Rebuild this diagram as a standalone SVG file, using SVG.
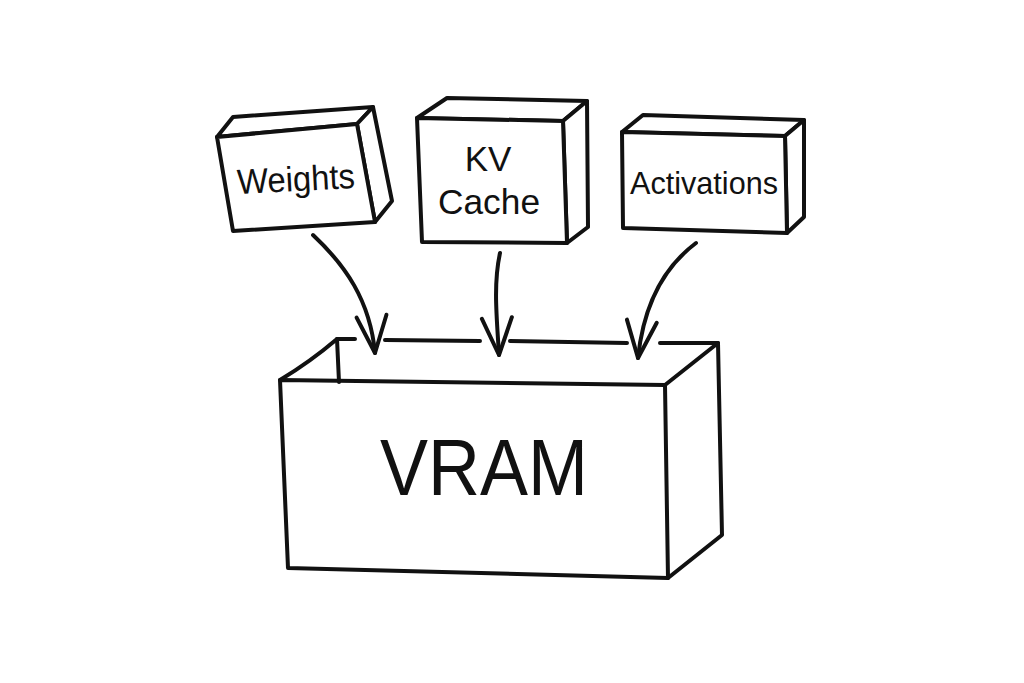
<svg xmlns="http://www.w3.org/2000/svg" width="1024" height="683" viewBox="0 0 1024 683">
<style>
.ln{fill:none;stroke:#111;stroke-width:4;stroke-linecap:round;stroke-linejoin:round}
.face{fill:#fff;stroke:#111;stroke-width:4;stroke-linejoin:round}
.lbl{font-family:"Liberation Sans","DejaVu Sans",sans-serif;fill:#111;text-anchor:middle}
</style>
<defs>
<marker id="ah" markerUnits="userSpaceOnUse" markerWidth="44" markerHeight="44" viewBox="-40 -22 44 44" refX="0" refY="0" orient="auto" overflow="visible">
<path d="M-37,-15 L0,0 L-37,15" fill="none" stroke="#111" stroke-width="4" stroke-linecap="round" stroke-linejoin="round"/>
</marker>
</defs>
<rect width="1024" height="683" fill="#fff"/>

<g id="weights">
<path class="face" d="M217,137 L233,117 L373,107 L357,124 Z"/>
<path class="face" d="M357,124 L373,107 L392,201 L375,222 Z"/>
<path class="face" d="M217,137 L357,124 L375,222 L233,231 Z"/>
<text class="lbl" x="296" y="191" font-size="35" textLength="118" lengthAdjust="spacingAndGlyphs" transform="rotate(-3 296 180)">Weights</text>
</g>

<g id="kvcache">
<path class="face" d="M417,118 L447,98 L587,101 L563,121 Z"/>
<path class="face" d="M563,121 L587,101 L588,227 L567,243 Z"/>
<path class="face" d="M417,118 L563,121 L567,243 L422,242 Z"/>
<text class="lbl" x="488" y="171" font-size="35">KV</text>
<text class="lbl" x="489" y="214" font-size="35" textLength="102" lengthAdjust="spacingAndGlyphs">Cache</text>
</g>

<g id="activations">
<path class="face" d="M622,132 L643,115 L804,120 L785,136 Z"/>
<path class="face" d="M785,136 L804,120 L804,217 L787,233 Z"/>
<path class="face" d="M622,132 L785,136 L787,233 L623,228 Z"/>
<text class="lbl" x="704" y="194" font-size="32" textLength="148" lengthAdjust="spacingAndGlyphs">Activations</text>
</g>

<g id="vram">
<path class="ln" d="M280,380 Q310,362 337,339 L355,339"/>
<path class="ln" d="M385,340 L480,341"/>
<path class="ln" d="M510,341 L627,343"/>
<path class="ln" d="M660,343 L718,343"/>
<path class="ln" d="M337,339 L339,382"/>
<path class="ln" d="M665,385 L718,343 L722,535 L668,578"/>
<path class="ln" d="M280,380 L665,385 L668,578 L288,568 Z"/>
<text class="lbl" x="484" y="495" font-size="80" textLength="208" lengthAdjust="spacingAndGlyphs">VRAM</text>
</g>

<g id="connectors">
<path class="ln" d="M313,235 C345,265 370,300 375,353" marker-end="url(#ah)"/>
<path class="ln" d="M500,253 C493,285 497,320 499,355" marker-end="url(#ah)"/>
<path class="ln" d="M696,243 C660,270 643,310 638,358" marker-end="url(#ah)"/>
</g>
</svg>
